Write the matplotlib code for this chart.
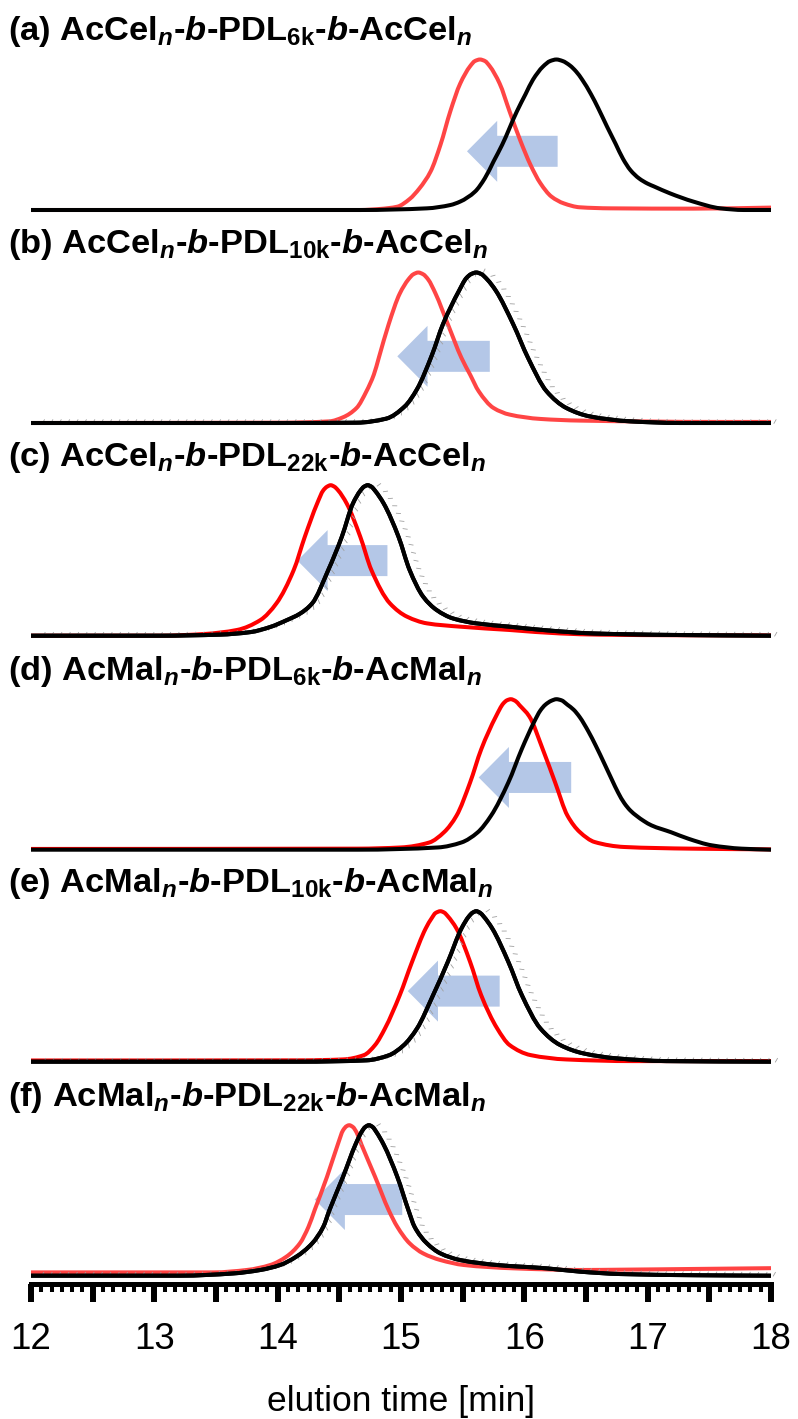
import numpy as np
import matplotlib
matplotlib.use("Agg")
import matplotlib.pyplot as plt
import matplotlib.patheffects as pe
from matplotlib.patches import Polygon, PathPatch
from matplotlib.path import Path
from matplotlib.ticker import MultipleLocator, FuncFormatter

plt.rcParams['font.family'] = ['Liberation Sans', 'DejaVu Sans']
plt.rcParams['mathtext.fontset'] = 'custom'
plt.rcParams['mathtext.rm'] = 'Liberation Sans:bold'
plt.rcParams['mathtext.it'] = 'Liberation Sans:bold:italic'
plt.rcParams['mathtext.bf'] = 'Liberation Sans:bold'

# ---------------- data: normalised SEC traces (elution time [min], intensity) ----------------
TITLES = [
    r"(a) AcCel$_n$-$b$-PDL$_{\mathrm{6k}}$-$b$-AcCel$_n$",
    r"(b) AcCel$_n$-$b$-PDL$_{\mathrm{10k}}$-$b$-AcCel$_n$",
    r"(c) AcCel$_n$-$b$-PDL$_{\mathrm{22k}}$-$b$-AcCel$_n$",
    r"(d) AcMal$_n$-$b$-PDL$_{\mathrm{6k}}$-$b$-AcMal$_n$",
    r"(e) AcMal$_n$-$b$-PDL$_{\mathrm{10k}}$-$b$-AcMal$_n$",
    r"(f) AcMal$_n$-$b$-PDL$_{\mathrm{22k}}$-$b$-AcMal$_n$",
]

# (a) block copolymer (red) and PDL-6k precursor (black)
A_RED_T = [12.0, 14.67, 14.83, 14.97, 15.07, 15.15, 15.24, 15.32, 15.40, 15.48, 15.56, 15.60, 15.64, 15.68,
           15.72, 15.80, 15.88, 15.97, 16.05, 16.13, 16.22, 16.32, 16.45, 16.70, 17.37, 18.0]
A_RED_I = [0.0, 0.0, 0.007, 0.022, 0.073, 0.144, 0.256, 0.433, 0.656, 0.840, 0.955, 0.990, 1.0, 0.990,
           0.955, 0.840, 0.656, 0.456, 0.300, 0.178, 0.089, 0.044, 0.018, 0.011, 0.009, 0.016]
A_BLK_T = [12.0, 14.67, 15.21, 15.40, 15.48, 15.60, 15.68, 15.75, 15.82, 15.94, 16.01, 16.07, 16.15, 16.21,
           16.26, 16.31, 16.37, 16.42, 16.47, 16.54, 16.60, 16.67, 16.74, 16.80, 16.86, 16.93, 17.00, 17.05,
           17.18, 17.37, 17.59, 17.78, 18.0]
A_BLK_I = [0.0, 0.0, 0.011, 0.033, 0.056, 0.122, 0.211, 0.322, 0.433, 0.656, 0.770, 0.866, 0.952, 0.990,
           1.0, 0.990, 0.960, 0.920, 0.865, 0.770, 0.675, 0.555, 0.440, 0.340, 0.265, 0.210, 0.175, 0.157,
           0.111, 0.056, 0.011, 0.0, 0.0]

# (b)
B_RED_T = [12.0, 14.02, 14.42, 14.53, 14.64, 14.72, 14.78, 14.82, 14.90, 14.99, 15.06, 15.10, 15.14, 15.18,
           15.22, 15.28, 15.38, 15.49, 15.56, 15.63, 15.75, 15.88, 16.13, 16.45, 17.59, 18.0]
B_RED_I = [0.0, 0.002, 0.011, 0.038, 0.100, 0.211, 0.322, 0.433, 0.656, 0.860, 0.954, 0.988, 1.0, 0.988,
           0.954, 0.860, 0.656, 0.433, 0.322, 0.211, 0.100, 0.056, 0.027, 0.016, 0.007, 0.007]
B_BLK_T = [12.0, 14.02, 14.64, 14.88, 15.03, 15.13, 15.25, 15.34, 15.47, 15.53, 15.57, 15.61, 15.65, 15.70,
           15.77, 15.91, 16.03, 16.18, 16.34, 16.53, 16.86, 17.26, 18.0]
B_BLK_I = [0.0, 0.0, 0.002, 0.029, 0.110, 0.225, 0.450, 0.656, 0.878, 0.963, 0.990, 1.0, 0.990, 0.953,
           0.878, 0.656, 0.433, 0.211, 0.100, 0.044, 0.011, 0.0, 0.0]

# (c)
C_RED_T = [12.0, 13.05, 13.40, 13.67, 13.86, 13.99, 14.13, 14.22, 14.32, 14.37, 14.40, 14.43, 14.46, 14.49,
           14.56, 14.67, 14.76, 14.91, 15.05, 15.21, 15.48, 15.88, 16.29, 16.61, 17.3, 18.0]
C_RED_I = [0.0, 0.0, 0.011, 0.038, 0.104, 0.215, 0.436, 0.657, 0.878, 0.966, 0.990, 1.0, 0.990, 0.966,
           0.878, 0.657, 0.436, 0.215, 0.126, 0.082, 0.060, 0.038, 0.015, 0.007, 0.003, 0.002]
C_BLK_T = [12.0, 13.05, 13.53, 13.78, 13.94, 14.07, 14.18, 14.28, 14.41, 14.52, 14.61, 14.67, 14.70, 14.73,
           14.76, 14.79, 14.86, 14.98, 15.07, 15.18, 15.29, 15.42, 15.61, 15.88, 16.15, 16.56, 17.2, 18.0]
C_BLK_I = [0.0, 0.0, 0.007, 0.024, 0.058, 0.102, 0.146, 0.215, 0.436, 0.657, 0.878, 0.963, 0.990, 1.0,
           0.990, 0.963, 0.878, 0.657, 0.436, 0.259, 0.170, 0.115, 0.082, 0.060, 0.038, 0.015, 0.005, 0.0]

# (d)
D_RED_T = [12.0, 14.65, 15.00, 15.23, 15.35, 15.45, 15.56, 15.65, 15.77, 15.83, 15.86, 15.89, 15.93, 15.96,
           16.04, 16.15, 16.25, 16.35, 16.45, 16.57, 16.81, 17.35, 18.0]
D_RED_I = [0.005, 0.007, 0.015, 0.048, 0.117, 0.226, 0.446, 0.666, 0.886, 0.972, 0.993, 1.0, 0.987, 0.961,
           0.886, 0.666, 0.446, 0.226, 0.117, 0.051, 0.018, 0.007, 0.002]
D_BLK_T = [12.0, 14.65, 15.30, 15.49, 15.62, 15.73, 15.87, 15.98, 16.08, 16.13, 16.17, 16.22, 16.26, 16.30,
           16.35, 16.40, 16.45, 16.52, 16.58, 16.65, 16.71, 16.76, 16.81, 16.86, 16.91, 16.97, 17.03, 17.19,
           17.33, 17.52, 17.76, 18.0]
D_BLK_I = [0.0, 0.0, 0.015, 0.048, 0.114, 0.226, 0.446, 0.670, 0.850, 0.925, 0.963, 0.990, 1.0, 0.993,
           0.963, 0.930, 0.880, 0.785, 0.690, 0.570, 0.465, 0.380, 0.310, 0.260, 0.225, 0.190, 0.162, 0.116,
           0.073, 0.029, 0.007, 0.0]

# (e)
E_RED_T = [12.0, 14.18, 14.53, 14.70, 14.79, 14.87, 14.99, 15.09, 15.20, 15.25, 15.28, 15.32, 15.35, 15.38,
           15.45, 15.56, 15.65, 15.78, 15.88, 16.05, 16.34, 16.88, 18.0]
E_RED_I = [0.008, 0.009, 0.015, 0.044, 0.111, 0.221, 0.442, 0.664, 0.885, 0.955, 0.988, 1.0, 0.991, 0.966,
           0.885, 0.664, 0.442, 0.221, 0.111, 0.044, 0.015, 0.004, 0.004]
E_BLK_T = [12.0, 14.18, 14.72, 14.90, 15.02, 15.13, 15.26, 15.38, 15.49, 15.55, 15.58, 15.61, 15.64, 15.67,
           15.74, 15.87, 15.98, 16.13, 16.29, 16.48, 16.75, 17.15, 18.0]
E_BLK_I = [0.0, 0.0, 0.009, 0.042, 0.108, 0.221, 0.442, 0.664, 0.885, 0.965, 0.990, 1.0, 0.990, 0.965,
           0.885, 0.664, 0.442, 0.221, 0.111, 0.055, 0.022, 0.004, 0.0]

# (f)
F_RED_T = [12.0, 13.48, 13.75, 13.94, 14.07, 14.18, 14.25, 14.30, 14.40, 14.49, 14.53, 14.56, 14.58, 14.61,
           14.64, 14.68, 14.79, 14.90, 14.97, 15.07, 15.18, 15.32, 15.51, 15.91, 16.45, 16.78, 17.4, 18.0]
F_RED_I = [0.022, 0.022, 0.038, 0.071, 0.126, 0.215, 0.325, 0.436, 0.657, 0.878, 0.966, 0.994, 1.0, 0.988,
           0.952, 0.870, 0.657, 0.436, 0.325, 0.215, 0.148, 0.104, 0.071, 0.049, 0.038, 0.040, 0.045, 0.050]
F_BLK_T = [12.0, 13.21, 13.64, 13.86, 14.02, 14.15, 14.28, 14.37, 14.42, 14.53, 14.63, 14.68, 14.71, 14.74,
           14.77, 14.80, 14.86, 14.97, 15.06, 15.11, 15.21, 15.32, 15.48, 15.78, 16.18, 16.45, 16.78, 17.4, 18.0]
F_BLK_I = [0.0, 0.0, 0.015, 0.038, 0.071, 0.126, 0.215, 0.325, 0.436, 0.657, 0.870, 0.955, 0.988, 1.0,
           0.988, 0.955, 0.870, 0.657, 0.436, 0.325, 0.215, 0.148, 0.104, 0.071, 0.049, 0.027, 0.011, 0.003, 0.0]

# shift arrows: from precursor position (tail) to copolymer position (tip), at a given trace height
ARROW_TAIL = [16.27, 15.72, 14.89, 16.38, 15.80, 15.01]
ARROW_TIP = [15.535, 14.97, 14.16, 15.63, 15.055, 14.30]
ARROW_LEVEL = [0.39, 0.443, 0.499, 0.48, 0.469, 0.506]

X_MAJOR_LABELS = [12, 13, 14, 15, 16, 17, 18]

RED_T = [A_RED_T, B_RED_T, C_RED_T, D_RED_T, E_RED_T, F_RED_T]
RED_I = [A_RED_I, B_RED_I, C_RED_I, D_RED_I, E_RED_I, F_RED_I]
BLK_T = [A_BLK_T, B_BLK_T, C_BLK_T, D_BLK_T, E_BLK_T, F_BLK_T]
BLK_I = [A_BLK_I, B_BLK_I, C_BLK_I, D_BLK_I, E_BLK_I, F_BLK_I]


def smooth_trace_path(x, y):
    """Monotone cubic (Hermite/Bezier) path through the measured points."""
    x = np.asarray(x, float)
    y = np.asarray(y, float)
    h = np.diff(x)
    d = np.diff(y) / h
    n = len(x)
    m = np.zeros(n)
    m[0], m[-1] = d[0], d[-1]
    for k in range(1, n - 1):
        if d[k - 1] * d[k] > 0:
            w1 = 2 * h[k] + h[k - 1]
            w2 = h[k] + 2 * h[k - 1]
            m[k] = (w1 + w2) / (w1 / d[k - 1] + w2 / d[k])
    verts = [(x[0], y[0])]
    codes = [Path.MOVETO]
    for k in range(n - 1):
        verts += [(x[k] + h[k] / 3, y[k] + m[k] * h[k] / 3),
                  (x[k + 1] - h[k] / 3, y[k + 1] - m[k + 1] * h[k] / 3),
                  (x[k + 1], y[k + 1])]
        codes += [Path.CURVE4] * 3
    return Path(verts, codes)


# ---------------- layout / style ----------------
W, H = 798, 1419
fig = plt.figure(figsize=(W / 100, H / 100), dpi=100)

X0_PX, X1_PX = 31, 771
BASE_PX = [210, 423, 635.7, 849.7, 1061.7, 1275.7]
SPAN_PX = 150.5
RED_COLORS = ['#ff4545', '#ff4545', '#ff0000', '#ff0000', '#ff0000', '#ff4343']
SHADOW_DX = [0.0, 5.0, 5.5, 0.0, 6.0, 4.5]
ARROW_COLOR = '#b4c7e7'
HEAD_LEN = 0.245          # min
BODY_HALF = 15.5 / SPAN_PX
HEAD_HALF = 30.5 / SPAN_PX
LW = 2.9

axes = []
for k in range(6):
    ax = fig.add_axes([X0_PX / W, 1 - BASE_PX[k] / H, (X1_PX - X0_PX) / W, SPAN_PX / H])
    ax.set_xlim(12, 18)
    ax.set_ylim(0, 1)
    ax.patch.set_alpha(0)
    for s in ax.spines.values():
        s.set_visible(False)
    ax.set_yticks([])
    ax.set_xticks([])

    # shift arrow (drawn beneath the traces)
    tail, tip, lev = ARROW_TAIL[k], ARROW_TIP[k], ARROW_LEVEL[k]
    hb = tip + HEAD_LEN
    verts = [(tail, lev + BODY_HALF), (hb, lev + BODY_HALF), (hb, lev + HEAD_HALF), (tip, lev),
             (hb, lev - HEAD_HALF), (hb, lev - BODY_HALF), (tail, lev - BODY_HALF)]
    ax.add_patch(Polygon(verts, closed=True, facecolor=ARROW_COLOR, edgecolor='none', zorder=1))

    red = PathPatch(smooth_trace_path(RED_T[k], RED_I[k]), fill=False, edgecolor=RED_COLORS[k], lw=LW,
                    joinstyle='round', capstyle='butt', clip_on=False, zorder=3)
    ax.add_patch(red)

    effects = [pe.Normal()]
    if SHADOW_DX[k] > 0:
        effects = [pe.withTickedStroke(offset=(SHADOW_DX[k], -0.5), spacing=6, angle=60, length=0.6,
                                       linewidth=0.6, foreground='#a0a0a0'), pe.Normal()]
    blk = PathPatch(smooth_trace_path(BLK_T[k], BLK_I[k]), fill=False, edgecolor='black', lw=LW,
                    joinstyle='round', capstyle='butt', clip_on=False, zorder=4, path_effects=effects)
    ax.add_patch(blk)

    fig.text(8 / W, 1 - (BASE_PX[k] - 170) / H, TITLES[k], fontsize=24.8, fontweight='bold',
             ha='left', va='baseline')
    axes.append(ax)

# bottom time axis
ax = axes[-1]
ax.spines['bottom'].set_visible(True)
ax.spines['bottom'].set_linewidth(3.6)
ax.spines['bottom'].set_position(('outward', 6.3))
ax.xaxis.set_major_locator(MultipleLocator(0.5))
ax.xaxis.set_minor_locator(MultipleLocator(1 / 12))
ax.xaxis.set_major_formatter(FuncFormatter(
    lambda v, p: f"{int(round(v))}" if abs(v - round(v)) < 1e-6 and int(round(v)) in X_MAJOR_LABELS else ""))
ax.tick_params(axis='x', which='major', direction='out', length=13.3, width=4.3, pad=14, labelsize=26.5)
ax.tick_params(axis='x', which='minor', direction='out', length=6.0, width=2.9)
for t in ax.xaxis.get_major_ticks():
    loc = t.get_loc()
    if abs(loc - round(loc)) > 1e-6:
        t.tick1line.set_markersize(11)

fig.text((X0_PX + X1_PX) / 2 / W, 1 - 1411 / H, "elution time [min]", fontsize=25.5, ha='center',
         va='baseline')

fig.savefig("out.png", dpi=100)
